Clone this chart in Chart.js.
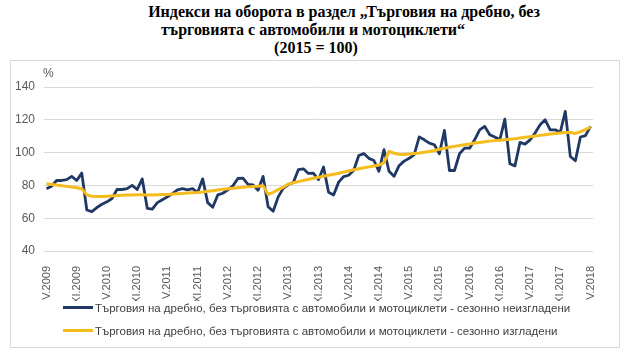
<!DOCTYPE html>
<html><head><meta charset="utf-8">
<script src="https://cdn.jsdelivr.net/npm/chart.js@4/dist/chart.umd.min.js"></script>
<style>
html,body{margin:0;padding:0;background:#fff;width:630px;height:356px;overflow:hidden;}
#title{position:absolute;left:0;top:0;width:630px;height:60px;font-family:"Liberation Serif","Times New Roman",serif;font-weight:bold;font-size:16px;line-height:18px;color:#000;}
#title div{position:absolute;white-space:nowrap;transform:translateX(-50%);}
#box{position:absolute;left:10px;top:60px;width:610px;height:288px;border:1px solid #D9D9D9;box-sizing:border-box;}
#wrap{position:absolute;left:0;top:0;width:630px;height:356px;}
#legend{position:absolute;left:0;top:0;width:630px;height:356px;font-family:"Liberation Sans",Arial,sans-serif;font-size:11.5px;line-height:14px;color:#404040;pointer-events:none;}
#legend .item{position:absolute;left:63px;white-space:nowrap;}
#legend .sw{display:inline-block;width:30px;height:3px;vertical-align:middle;margin-right:2px;position:relative;top:-1px;}
</style>
</head><body>
<div id="box"></div>
<div id="title">
  <div style="left:344px;top:3px">Индекси на оборота в раздел „Търговия на дребно, без</div>
  <div style="left:313px;top:21px">търговията с автомобили и мотоциклети“</div>
  <div style="left:316px;top:39px">(2015 = 100)</div>
</div>
<div id="wrap"><canvas id="c" width="630" height="356"></canvas></div>
<div id="legend"></div>
<script>
// Category labels: monthly, V.2009 .. V.2018
const romanMonths = ['I','II','III','IV','V','VI','VII','VIII','IX','X','XI','XII'];
const startYear = 2009, startMonth = 4, nMonths = 109;
const categories = [];
for (let k = 0; k < nMonths; k++) {
  const m = (startMonth + k) % 12;
  const y = startYear + Math.floor((startMonth + k) / 12);
  categories.push(romanMonths[m] + '.' + y);
}
const shownTickLabels = ['V.2009','XI.2009','V.2010','XI.2010','V.2011','XI.2011','V.2012','XI.2012','V.2013','XI.2013','V.2014','XI.2014','V.2015','XI.2015','V.2016','XI.2016','V.2017','XI.2017','V.2018'];

const seriesNames = [
  'Търговия на дребно, без търговията с автомобили и мотоциклети - сезонно неизгладени',
  'Търговия на дребно, без търговията с автомобили и мотоциклети - сезонно изгладени'
];

// Not seasonally adjusted
const unadjusted = [
  78, 79.5, 83, 83, 83.5, 85.5, 83, 87.5,
  65, 64, 66.5, 68.5, 70, 72, 77.5, 77.5, 78, 80, 77.5, 84,
  66, 65.5, 69.5, 71.3, 73, 75, 77.3, 78, 77.3, 78, 75.6, 84,
  69.5, 66.7, 74.2, 75.2, 77.3, 79.7, 84.2, 84.4, 80.6, 80.3, 77, 85.5,
  67, 64.2, 73, 78.2, 80.5, 81.8, 89.6, 90.1, 87.3, 87.4, 83.5, 91.2,
  75.8, 74.2, 82, 85.4, 86.2, 89.2, 98.2, 99.4, 96.5, 95.2, 88.6, 101.8,
  88.6, 85.5, 92, 94.8, 96.5, 98.8, 109.6, 107.8, 105.8, 104.8, 99.3, 113.5,
  89.1, 89.1, 99.3, 102.7, 102.7, 107.8, 113.9, 116, 110.9, 109.5, 107.8, 120.4,
  93.2, 91.9, 106.2, 105.2, 107.8, 111.9, 117, 120, 113.9, 113.9, 112.3, 125.1,
  97.6, 95, 109.5, 110.3, 116
];

// Seasonally adjusted
const adjusted = [
  81, 80.6, 80.2, 79.8, 79.4, 79, 78.6, 78,
  74.2, 73.4, 73.2, 73.2, 73.4, 73.6, 73.8, 74, 74.1, 74.2, 74.3, 74.3,
  74.2, 74.2, 74.3, 74.4, 74.5, 74.7, 74.9, 75.1, 75.3, 75.5, 75.7, 76,
  76.4, 76.8, 77.2, 77.6, 78, 78.3, 78.6, 78.9, 79.1, 79.3, 79.5, 79.8,
  74.5, 75.8, 77.5, 78.8, 80.8, 81.6, 82.3, 83, 83.7, 84.4, 85, 85.6,
  86.2, 86.8, 87.4, 88.1, 88.8, 89.5, 90.2, 90.8, 91.3, 91.8, 92.4, 93.9,
  100.7, 99.6, 99, 98.9, 99.1, 99.5, 99.8, 100.2, 100.7, 101.3, 102, 102.6,
  103.3, 103.8, 104.3, 104.8, 105.3, 105.8, 106.2, 106.6, 107, 107.3, 107.6, 107.9,
  108.2, 108.5, 108.9, 109.3, 109.7, 110.1, 110.5, 110.9, 111.3, 111.7, 112, 112.3,
  112.3, 111.7, 112.8, 114, 115.6
];

const yTicks = [40, 60, 80, 100, 120, 140];
const colors = ['#1F3864', '#F4BC1C'];

const percentPlugin = {
  id: 'percentLabel',
  afterDraw(chart) {
    const ctx = chart.ctx;
    ctx.save();
    ctx.fillStyle = '#595959';
    ctx.font = '12px "Liberation Sans", Arial, sans-serif';
    ctx.textAlign = 'left';
    ctx.textBaseline = 'middle';
    ctx.fillText('%', chart.chartArea.left - 1, 74);
    ctx.restore();
  }
};

const chart = new Chart(document.getElementById('c'), {
  type: 'line',
  data: {
    labels: categories,
    datasets: [
      { label: seriesNames[0], data: unadjusted, borderColor: colors[0], backgroundColor: colors[0],
        borderWidth: 2.8, pointRadius: 0, tension: 0, order: 1, borderJoinStyle: 'round' },
      { label: seriesNames[1], data: adjusted, borderColor: colors[1], backgroundColor: colors[1],
        borderWidth: 3, pointRadius: 0, tension: 0, order: 0, borderJoinStyle: 'round' }
    ]
  },
  options: {
    responsive: false,
    animation: false,
    layout: { padding: { top: 87, left: 14, right: 37, bottom: 55 } },
    plugins: { legend: { display: false }, tooltip: { enabled: false }, title: { display: false } },
    scales: {
      x: {
        offset: true,
        grid: { display: false },
        border: { display: false },
        ticks: {
          autoSkip: false, maxRotation: 90, minRotation: 90, padding: 7,
          color: '#595959', font: { family: '"Liberation Sans", Arial, sans-serif', size: 11 },
          callback: function(v, i) {
            const lab = categories[i];
            return shownTickLabels.includes(lab) ? lab : '';
          }
        },
        afterFit: s => { s.height = 50; }
      },
      y: {
        min: 40, max: 140,
        afterBuildTicks: s => { s.ticks = yTicks.map(v => ({ value: v })); },
        grid: { color: '#D9D9D9', drawTicks: false, lineWidth: 1 },
        border: { display: false },
        ticks: { padding: 9, color: '#595959', font: { family: '"Liberation Sans", Arial, sans-serif', size: 12 } },
        afterFit: s => { s.width = 30; }
      }
    }
  },
  plugins: [percentPlugin]
});

// HTML legend built from the datasets
const legendEl = document.getElementById('legend');
const legendTops = [301, 324];
chart.data.datasets.forEach((ds, i) => {
  const item = document.createElement('div');
  item.className = 'item';
  item.style.top = legendTops[i] + 'px';
  const sw = document.createElement('span');
  sw.className = 'sw';
  sw.style.background = ds.borderColor;
  item.appendChild(sw);
  item.appendChild(document.createTextNode(ds.label));
  legendEl.appendChild(item);
});
</script>
</body></html>
